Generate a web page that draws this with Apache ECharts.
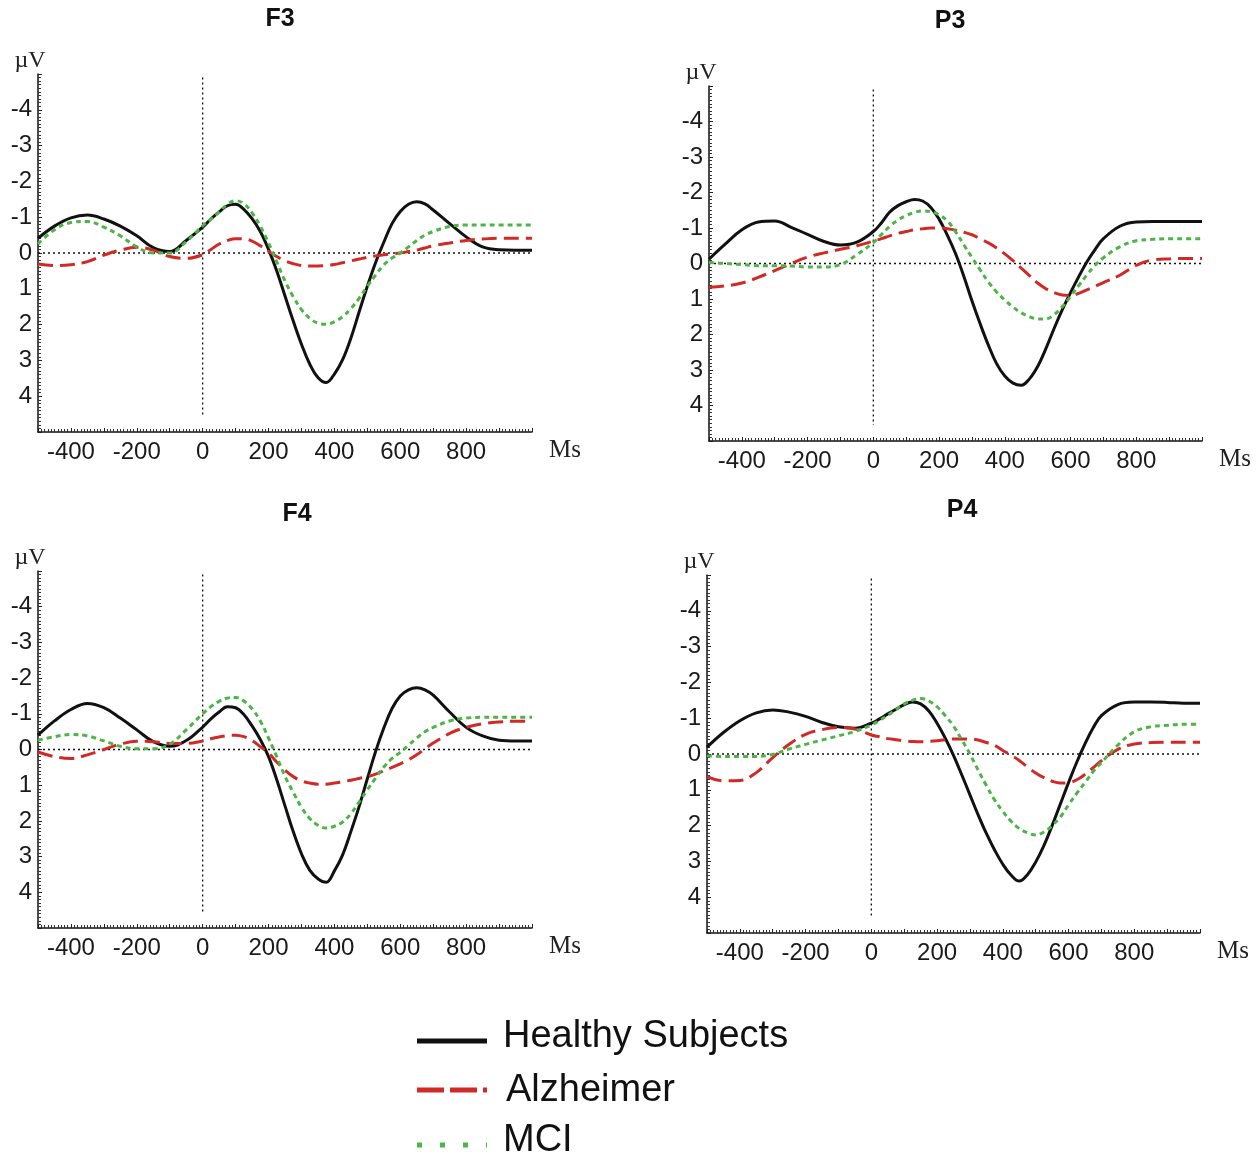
<!DOCTYPE html>
<html>
<head>
<meta charset="utf-8">
<title>ERP waveforms F3 P3 F4 P4</title>
<script src="https://cdn.jsdelivr.net/npm/echarts@6/dist/echarts.min.js"></script>
<style>
  html, body { margin: 0; padding: 0; background: #ffffff; }
  #chart { width: 1256px; height: 1157px; }
</style>
</head>
<body>
<div id="chart"></div>
<script>
// Sample times (ms): 50 ms steps in the flat stretches, 25 ms steps through the main components
const timeMs = [-500, -450, -400, -350, -300, -250, -200, -150, -100, -50, 0,
  25, 50, 75, 100, 125, 150, 175, 200, 225, 250, 275, 300, 325, 350,
  375, 400, 425, 450, 475, 500, 525, 550, 575, 600, 625, 650, 675, 700,
  750, 800, 850, 900, 950, 1000];

// Grand averages (µV, negative plotted upward)
const f3Healthy = [-0.41, -0.75, -0.98, -1.06, -0.95, -0.75, -0.48, -0.15, -0.04, -0.35, -0.72,
  -0.95, -1.15, -1.32, -1.36, -1.22, -0.96, -0.6, -0.1, 0.5, 1.2, 1.9, 2.55, 3.1, 3.48,
  3.62, 3.38, 2.98, 2.38, 1.65, 0.93, 0.27, -0.3, -0.82, -1.16, -1.36, -1.43, -1.37, -1.2,
  -0.82, -0.45, -0.17, -0.09, -0.08, -0.08];
const f3Alzheimer = [0.31, 0.35, 0.33, 0.24, 0.06, -0.08, -0.16, -0.08, 0.1, 0.15, 0.05,
  -0.1, -0.25, -0.35, -0.4, -0.4, -0.33, -0.2, -0.05, 0.1, 0.22, 0.3, 0.35, 0.36, 0.36,
  0.35, 0.32, 0.27, 0.22, 0.17, 0.12, 0.08, 0.05, 0.02, 0.0, -0.04, -0.08, -0.14, -0.2,
  -0.28, -0.35, -0.39, -0.41, -0.41, -0.41];
const f3Mci = [-0.25, -0.65, -0.85, -0.88, -0.72, -0.48, -0.17, 0.0, 0.0, -0.32, -0.76,
  -0.95, -1.15, -1.36, -1.46, -1.38, -1.12, -0.75, -0.28, 0.25, 0.78, 1.22, 1.58, 1.82, 1.96,
  1.99, 1.92, 1.78, 1.55, 1.27, 0.93, 0.62, 0.33, 0.14, 0.0, -0.17, -0.35, -0.5, -0.6,
  -0.74, -0.78, -0.78, -0.78, -0.78, -0.78];

const p3Healthy = [-0.12, -0.55, -0.95, -1.17, -1.2, -1.02, -0.82, -0.62, -0.52, -0.6, -0.9,
  -1.15, -1.45, -1.63, -1.74, -1.8, -1.76, -1.58, -1.25, -0.8, -0.28, 0.35, 1.05, 1.7, 2.3,
  2.82, 3.17, 3.37, 3.43, 3.25, 2.9, 2.4, 1.83, 1.3, 0.82, 0.37, -0.05, -0.4, -0.7,
  -1.05, -1.17, -1.18, -1.18, -1.18, -1.18];
const p3Alzheimer = [0.67, 0.63, 0.55, 0.39, 0.2, 0.0, -0.18, -0.3, -0.4, -0.5, -0.63,
  -0.7, -0.78, -0.85, -0.9, -0.95, -0.98, -1.0, -1.0, -0.98, -0.94, -0.88, -0.81, -0.7, -0.58,
  -0.44, -0.27, -0.08, 0.13, 0.34, 0.55, 0.71, 0.82, 0.89, 0.9, 0.84, 0.74, 0.64, 0.54,
  0.33, 0.05, -0.1, -0.13, -0.14, -0.14];
const p3Mci = [-0.03, 0.0, 0.03, 0.06, 0.06, 0.07, 0.1, 0.1, 0.03, -0.25, -0.59,
  -0.82, -1.05, -1.22, -1.35, -1.44, -1.48, -1.46, -1.37, -1.2, -0.9, -0.53, -0.17, 0.18, 0.52,
  0.8, 1.03, 1.23, 1.39, 1.5, 1.56, 1.56, 1.44, 1.22, 0.93, 0.62, 0.32, 0.05, -0.16,
  -0.47, -0.64, -0.68, -0.7, -0.7, -0.7];

const f4Healthy = [-0.4, -0.8, -1.12, -1.29, -1.17, -0.88, -0.55, -0.22, -0.09, -0.25, -0.63,
  -0.86, -1.05, -1.2, -1.17, -0.98, -0.66, -0.28, 0.2, 0.85, 1.58, 2.3, 2.92, 3.38, 3.62,
  3.72, 3.4, 2.95, 2.3, 1.6, 0.82, 0.06, -0.6, -1.15, -1.5, -1.67, -1.73, -1.67, -1.52,
  -1.05, -0.62, -0.38, -0.26, -0.24, -0.24];
const f4Alzheimer = [0.07, 0.2, 0.25, 0.15, 0.0, -0.15, -0.23, -0.22, -0.17, -0.17, -0.24,
  -0.3, -0.35, -0.39, -0.4, -0.36, -0.25, -0.08, 0.1, 0.35, 0.58, 0.76, 0.88, 0.94, 0.97,
  0.97, 0.94, 0.9, 0.86, 0.81, 0.76, 0.69, 0.6, 0.5, 0.4, 0.29, 0.15, -0.02, -0.18,
  -0.45, -0.62, -0.72, -0.77, -0.79, -0.79];
const f4Mci = [-0.26, -0.36, -0.42, -0.38, -0.24, -0.09, -0.02, -0.02, -0.15, -0.55, -1.0,
  -1.2, -1.35, -1.44, -1.46, -1.36, -1.14, -0.8, -0.32, 0.2, 0.75, 1.2, 1.62, 1.93, 2.12,
  2.2, 2.15, 2.03, 1.8, 1.47, 1.13, 0.8, 0.49, 0.25, 0.08, -0.12, -0.32, -0.5, -0.62,
  -0.8, -0.88, -0.9, -0.9, -0.9, -0.9];

const p4Healthy = [-0.19, -0.6, -0.93, -1.15, -1.23, -1.17, -1.05, -0.88, -0.76, -0.72, -0.86,
  -0.98, -1.12, -1.25, -1.38, -1.45, -1.4, -1.2, -0.86, -0.44, 0.04, 0.58, 1.14, 1.7, 2.22,
  2.68, 3.08, 3.38, 3.55, 3.37, 3.02, 2.56, 2.0, 1.4, 0.8, 0.23, -0.28, -0.73, -1.07,
  -1.38, -1.45, -1.45, -1.44, -1.42, -1.42];
const p4Alzheimer = [0.63, 0.75, 0.74, 0.52, 0.1, -0.27, -0.55, -0.68, -0.74, -0.7, -0.53,
  -0.48, -0.43, -0.4, -0.37, -0.35, -0.34, -0.35, -0.37, -0.4, -0.42, -0.42, -0.42, -0.39, -0.32,
  -0.24, -0.1, 0.03, 0.18, 0.36, 0.53, 0.66, 0.76, 0.81, 0.8, 0.72, 0.57, 0.38, 0.19,
  -0.13, -0.28, -0.32, -0.33, -0.33, -0.33];
const p4Mci = [0.05, 0.07, 0.07, 0.07, 0.01, -0.14, -0.27, -0.39, -0.51, -0.63, -0.81,
  -0.94, -1.08, -1.24, -1.4, -1.5, -1.55, -1.48, -1.32, -1.07, -0.78, -0.4, 0.0, 0.45, 0.88,
  1.28, 1.6, 1.88, 2.08, 2.2, 2.26, 2.18, 2.0, 1.76, 1.42, 1.1, 0.8, 0.49, 0.24,
  -0.25, -0.62, -0.76, -0.8, -0.83, -0.83];

// Axis tick labels
const xTickLabels = [-400, -200, 0, 200, 400, 600, 800];
const yTickLabels = [-4, -3, -2, -1, 0, 1, 2, 3, 4];

// Reference lines: baseline across the epoch, stimulus onset at 0 ms
const baselineSpan = [-500, 1000];
const onsetSpan = [-4.9, 4.55];

const groupNames = ['Healthy Subjects', 'Alzheimer', 'MCI'];
const electrodes = ['F3', 'P3', 'F4', 'P4'];
const panelData = [
  [f3Healthy, f3Alzheimer, f3Mci],
  [p3Healthy, p3Alzheimer, p3Mci],
  [f4Healthy, f4Alzheimer, f4Mci],
  [p4Healthy, p4Alzheimer, p4Mci]
];

// Panel geometry
const layout = [
  { left: 38,  top: 74,  width: 494, height: 358, title: [280, 19] },
  { left: 709, top: 86,  width: 493, height: 355, title: [950, 21] },
  { left: 38,  top: 571, width: 494, height: 357, title: [297, 514] },
  { left: 707, top: 575, width: 493, height: 358, title: [962, 510] }
];

const sansFont = '"Liberation Sans", Arial, sans-serif';
const serifFont = '"Liberation Serif", "Times New Roman", serif';

const lineStyles = [
  { color: '#111111', width: 3, type: 'solid' },
  { color: '#d02a27', width: 3, type: [15, 7] },
  { color: '#4db548', width: 3, type: [5, 4] }
];

const refLine = { color: '#111111', width: 1.3, type: [2, 3] };

const grids = [], xAxes = [], yAxes = [], series = [], graphics = [];

layout.forEach((box, i) => {
  grids.push({ left: box.left, top: box.top, width: box.width, height: box.height, containLabel: false });

  xAxes.push({
    type: 'value', gridIndex: i, min: -500, max: 1000, interval: 100,
    axisLine: { show: true, onZero: false, lineStyle: { color: '#111', width: 1.5 } },
    axisTick: { show: true, inside: true, length: 4, lineStyle: { color: '#222', width: 1 } },
    minorTick: { show: true, splitNumber: 10, length: 3, lineStyle: { color: '#333', width: 1 } },
    splitLine: { show: false },
    axisLabel: {
      formatter: v => (xTickLabels.includes(v) ? String(v) : ''),
      fontFamily: sansFont, fontSize: 24, color: '#1a1a1a', margin: 8
    },
    name: 'Ms', nameLocation: 'end', nameGap: 17,
    nameTextStyle: { fontFamily: serifFont, fontSize: 25, color: '#222', verticalAlign: 'top', padding: [6, 0, 0, 0] }
  });

  yAxes.push({
    type: 'value', gridIndex: i, inverse: true, min: -5, max: 5, interval: 1,
    axisLine: { show: true, onZero: false, lineStyle: { color: '#111', width: 1.5 } },
    axisTick: { show: true, inside: true, length: 4, lineStyle: { color: '#222', width: 1 } },
    minorTick: { show: true, splitNumber: 10, length: 3, lineStyle: { color: '#333', width: 1 } },
    splitLine: { show: false },
    axisLabel: {
      formatter: v => (yTickLabels.includes(v) ? String(v) : ''),
      fontFamily: sansFont, fontSize: 24, color: '#1a1a1a', margin: 6
    },
    name: 'µV', nameLocation: 'start', nameGap: 1,
    nameTextStyle: { fontFamily: serifFont, fontSize: 24, color: '#222', align: 'center', padding: [0, 16, 0, 0] }
  });

  // dotted baseline and onset markers
  series.push({
    type: 'line', xAxisIndex: i, yAxisIndex: i, silent: true, showSymbol: false,
    data: baselineSpan.map(t => [t, 0]), lineStyle: refLine, z: 1
  });
  series.push({
    type: 'line', xAxisIndex: i, yAxisIndex: i, silent: true, showSymbol: false,
    data: onsetSpan.map(v => [0, v]), lineStyle: refLine, z: 1
  });

  panelData[i].forEach((values, g) => {
    series.push({
      name: groupNames[g], type: 'line', xAxisIndex: i, yAxisIndex: i,
      data: timeMs.map((t, k) => [t, values[k]]),
      smooth: 0.4, showSymbol: false, symbol: 'none',
      lineStyle: lineStyles[g], z: 3 + g
    });
  });

  graphics.push({
    type: 'text', x: box.title[0], y: box.title[1],
    style: { text: electrodes[i], font: 'bold 25px ' + sansFont, fill: '#111', align: 'center', verticalAlign: 'middle' }
  });
});

// Legend block
const legendRows = [
  { y: 1041, textY: 1037, textX: 503, width: 5, dash: null },
  { y: 1090, textY: 1091, textX: 506, width: 5, dash: [27, 6] },
  { y: 1145, textY: 1141, textX: 503, width: 5, dash: [5, 18] }
];
legendRows.forEach((row, g) => {
  graphics.push({
    type: 'line', shape: { x1: 417, y1: row.y, x2: 487, y2: row.y },
    style: { stroke: lineStyles[g].color, lineWidth: row.width, lineDash: row.dash }
  });
  graphics.push({
    type: 'text', x: row.textX, y: row.textY,
    style: { text: groupNames[g], font: '38px ' + sansFont, fill: '#111', align: 'left', verticalAlign: 'middle' }
  });
});

const chart = echarts.init(document.getElementById('chart'), null, { renderer: 'canvas' });
chart.setOption({
  backgroundColor: '#ffffff',
  animation: false,
  grid: grids,
  xAxis: xAxes,
  yAxis: yAxes,
  series: series,
  graphic: graphics
});
</script>
</body>
</html>
